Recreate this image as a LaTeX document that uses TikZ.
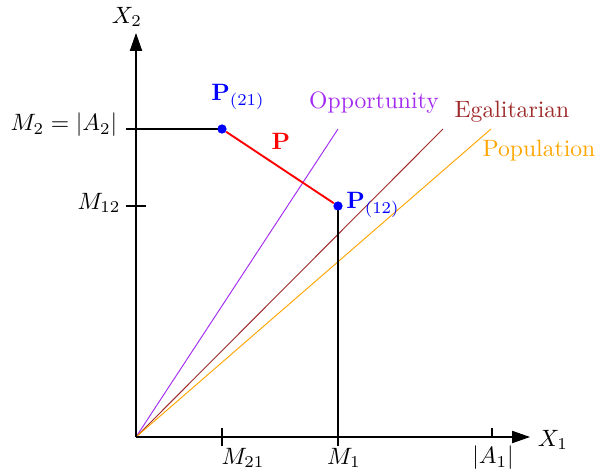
\documentclass[tikz,border=0pt]{standalone}
\usepackage{xcolor}
\usepackage{amssymb}
\usepackage{tikz}
\usetikzlibrary{calc,arrows.meta}
\definecolor{opp}{HTML}{A32BF0}
\definecolor{ega}{HTML}{9E2A2A}
\definecolor{pop}{HTML}{FFA500}

\begin{document}
\begin{tikzpicture}[
        x=0.423pt,y=0.423pt,
        ax/.style={line width=0.45pt,-{Triangle[length=7.6pt,width=5.2pt]}},
        bd/.style={line width=0.8pt,black},
        tk/.style={line width=0.45pt},
        ray/.style={line width=0.4pt},
        dot/.style={circle,fill=blue,inner sep=0pt,minimum size=3.8pt},
        lbl/.style={inner sep=0pt}
      ]
      \useasboundingbox (-136,-38) rectangle (459,437);
      % axes
      \coordinate (O) at (0,0);
      \coordinate (xe) at (394,0);
      \coordinate (ye) at (0,404);
      \draw[ax] (O) -- (xe);
      \draw[ax] (O) -- (ye);
      \node[lbl] (x1) at (417,-3) {$X_1$};
      \node[lbl] (x2) at (-9,420) {$X_2$};
      % ticks
      \coordinate (m21) at (86,0);
      \coordinate (m1) at (202,0);
      \coordinate (a1) at (356,0);
      \coordinate (m2) at (0,308);
      \coordinate (m12) at (0,231);
      \draw[tk] ($(m21)+(0,-9)$) -- ($(m21)+(0,9)$);
      \draw[tk] ($(m1)+(0,-9)$) -- (m1);
      \draw[tk] (a1) -- ($(a1)+(0,9)$);
      \draw[tk] ($(m2)+(-10,0)$) -- ($(m2)+(10,0)$);
      \draw[tk] ($(m12)+(-10,0)$) -- ($(m12)+(10,0)$);
      \node[lbl] (lm21) at (107,-21) {$M_{21}$};
      \node[lbl] (lm1) at (208,-21) {$M_1$};
      \node[lbl] (la1) at (357,-21) {$|A_1|$};
      \node[lbl] (lm2) at (-72,312) {$M_2=|A_2|$};
      \node[lbl] (lm12) at (-37,234) {$M_{12}$};
      % rays
      \coordinate (ro) at (202,308);
      \coordinate (re) at (307,308);
      \coordinate (rp) at (355,308);
      \draw[ray,opp] (O) -- (ro);
      \draw[ray,ega] (O) -- (re);
      \draw[ray,pop] (O) -- (rp);
      \node[lbl,text=opp] (lo) at (238,334) {Opportunity};
      \node[lbl,text=ega] (le) at (376,325) {Egalitarian};
      \node[lbl,text=pop] (lp) at (403,286) {Population};
      % region
      \node[dot] (p21) at (86,308) {};
      \node[dot] (p12) at (202,231) {};
      \draw[bd] (m2) -- (p21.center);
      \draw[bd] (p12.center) -- (m1);
      \draw[bd] (O) -- (m1);
      \draw[bd] (O) -- (m2);
      \draw[line width=0.8pt,red] (p21) -- (p12);
      \node[dot] at (p21) {};
      \node[dot] at (p12) {};
      \node[lbl,text=blue] (lp21) at (102,340) {$\mathbf{P}_{(21)}$};
      \node[lbl,text=blue] (lp12) at (237,232) {$\mathbf{P}_{(12)}$};
      \node[lbl,text=red] (lpp) at (145,296) {$\mathbf{P}$};
    \end{tikzpicture}
\end{document}
